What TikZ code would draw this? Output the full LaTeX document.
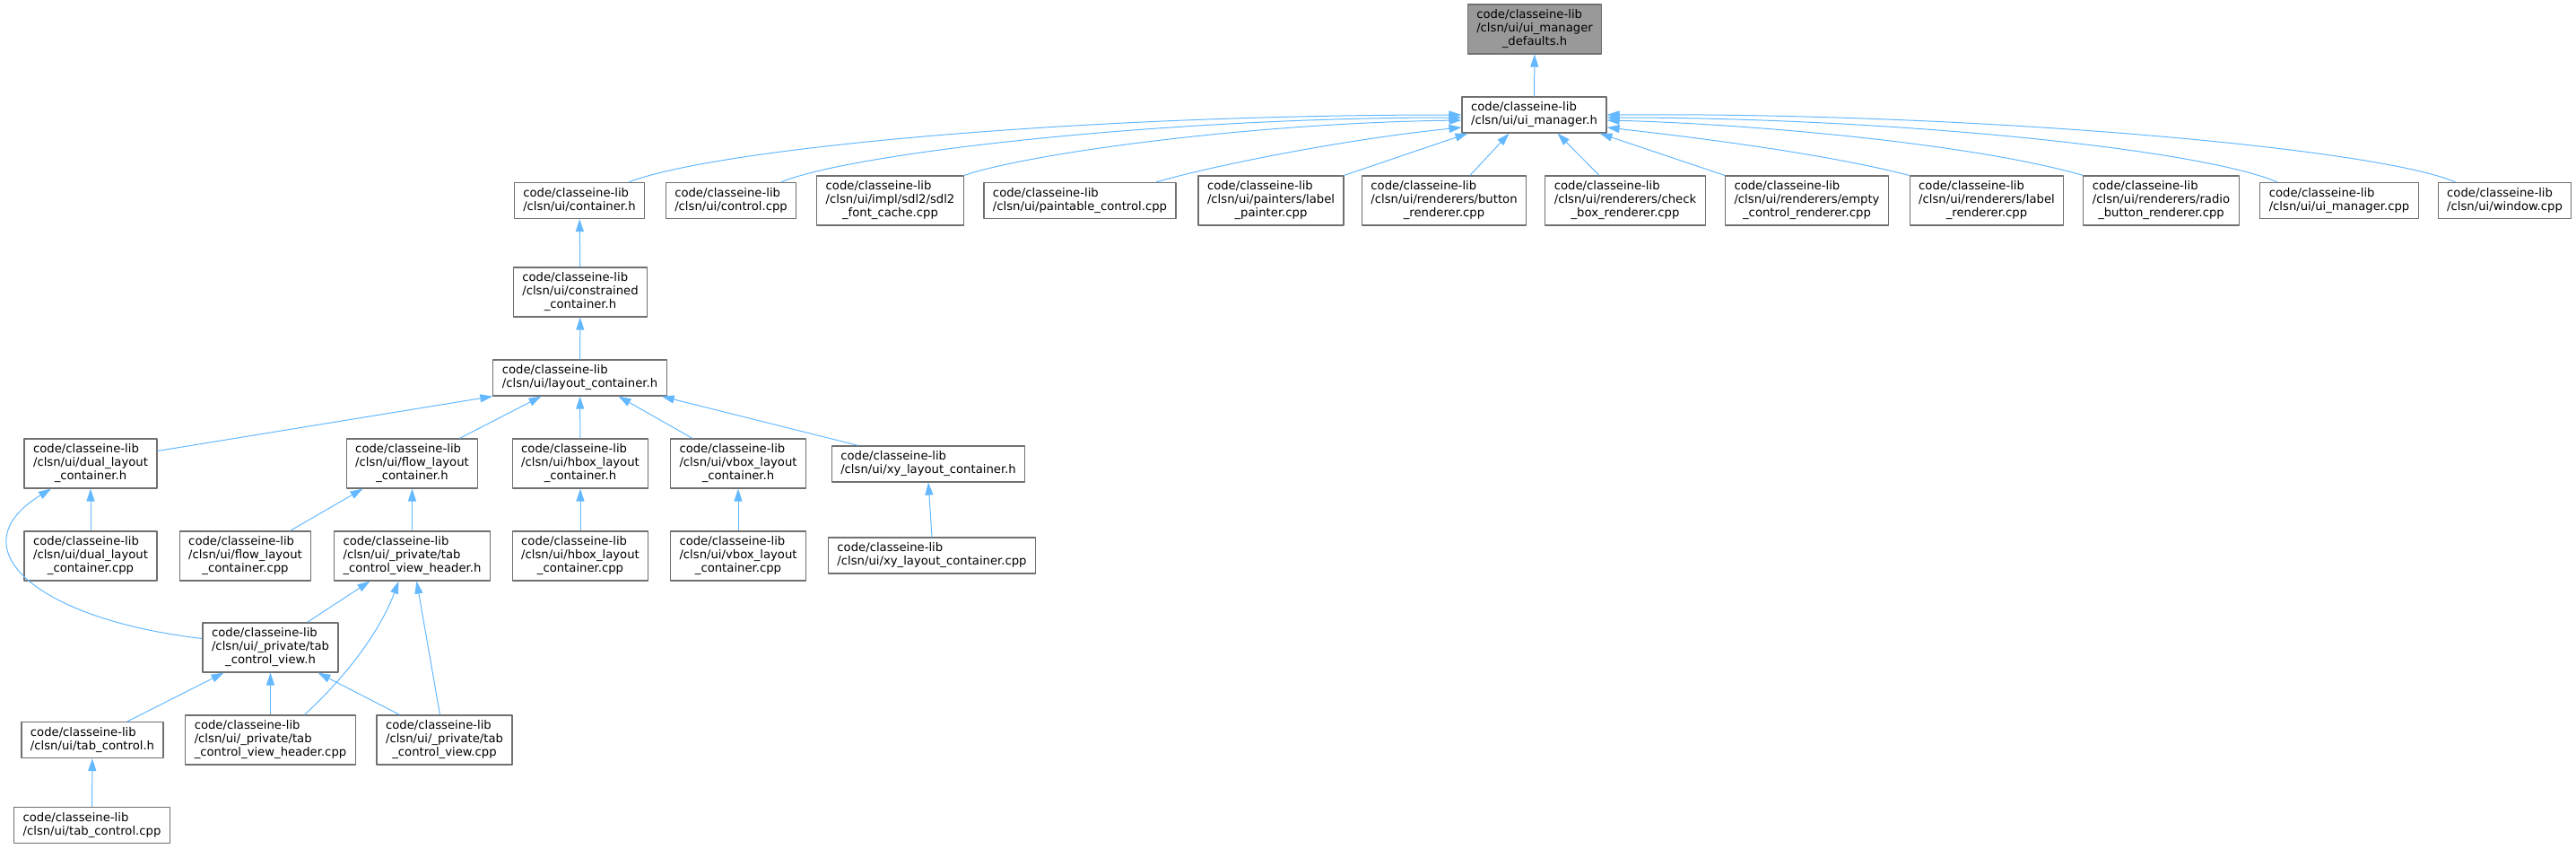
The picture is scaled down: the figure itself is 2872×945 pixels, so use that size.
\documentclass[tikz,border=0pt]{standalone}
\usepackage{fontspec}
\setmainfont{DejaVu Sans}
\usetikzlibrary{arrows.meta}
\definecolor{edgeblue}{HTML}{63B8FF}
\definecolor{boxgray}{HTML}{707070}
\definecolor{rootgray}{HTML}{999999}
\newcommand{\flab}[2]{\begin{tabular}{@{}l@{}}#1\\\multicolumn{1}{@{}c@{}}{#2}\end{tabular}}
\begin{document}
\begin{tikzpicture}[x=1pt, y=-1pt, line join=round,
    file/.style={draw=boxgray, fill=white, line width=1.2pt, inner xsep=10pt, inner ysep=5pt,
      font=\fontsize{13.2}{15}\selectfont},
    root/.style={file, fill=rootgray},
    dep/.style={draw=edgeblue, line width=1pt, -{Triangle[length=14pt, width=9pt]}}]
    \useasboundingbox (0,0) rectangle (2872,945);

    \node[root] (defaults) at (1711,32.5) {\flab{code/classeine-lib\\/clsn/ui/ui\_manager}{\_defaults.h}};
    \node[file] (uimgr) at (1710.5,128) {\flab{code/classeine-lib}{/clsn/ui/ui\_manager.h}};

    % users of ui_manager.h
    \node[file] (container) at (646,223.5) {\flab{code/classeine-lib}{/clsn/ui/container.h}};
    \node[file] (control) at (815,223.5) {\flab{code/classeine-lib}{/clsn/ui/control.cpp}};
    \node[file] (sdlfont) at (992.5,223.5) {\flab{code/classeine-lib\\/clsn/ui/impl/sdl2/sdl2}{\_font\_cache.cpp}};
    \node[file] (paintable) at (1204,223.5) {\flab{code/classeine-lib}{/clsn/ui/paintable\_control.cpp}};
    \node[file] (lpainter) at (1417,223.5) {\flab{code/classeine-lib\\/clsn/ui/painters/label}{\_painter.cpp}};
    \node[file] (button) at (1610,223.5) {\flab{code/classeine-lib\\/clsn/ui/renderers/button}{\_renderer.cpp}};
    \node[file] (checkbox) at (1812,223.5) {\flab{code/classeine-lib\\/clsn/ui/renderers/check}{\_box\_renderer.cpp}};
    \node[file] (empty) at (2014.5,223.5) {\flab{code/classeine-lib\\/clsn/ui/renderers/empty}{\_control\_renderer.cpp}};
    \node[file] (lrenderer) at (2215,223.5) {\flab{code/classeine-lib\\/clsn/ui/renderers/label}{\_renderer.cpp}};
    \node[file] (radio) at (2409.5,223.5) {\flab{code/classeine-lib\\/clsn/ui/renderers/radio}{\_button\_renderer.cpp}};
    \node[file] (uimgrcpp) at (2608,223.5) {\flab{code/classeine-lib}{/clsn/ui/ui\_manager.cpp}};
    \node[file] (window) at (2792.5,223.5) {\flab{code/classeine-lib}{/clsn/ui/window.cpp}};

    % container chain
    \node[file] (constrained) at (647,325.5) {\flab{code/classeine-lib\\/clsn/ui/constrained}{\_container.h}};
    \node[file] (layout) at (646.5,421) {\flab{code/classeine-lib}{/clsn/ui/layout\_container.h}};
    \node[file] (dualh) at (101,516.5) {\flab{code/classeine-lib\\/clsn/ui/dual\_layout}{\_container.h}};
    \node[file] (flowh) at (459.5,516.5) {\flab{code/classeine-lib\\/clsn/ui/flow\_layout}{\_container.h}};
    \node[file] (hboxh) at (647,516.5) {\flab{code/classeine-lib\\/clsn/ui/hbox\_layout}{\_container.h}};
    \node[file] (vboxh) at (823,516.5) {\flab{code/classeine-lib\\/clsn/ui/vbox\_layout}{\_container.h}};
    \node[file] (xyh) at (1035,517) {\flab{code/classeine-lib}{/clsn/ui/xy\_layout\_container.h}};
    \node[file] (dualcpp) at (101,619.5) {\flab{code/classeine-lib\\/clsn/ui/dual\_layout}{\_container.cpp}};
    \node[file] (flowcpp) at (273.5,619.5) {\flab{code/classeine-lib\\/clsn/ui/flow\_layout}{\_container.cpp}};
    \node[file] (headerh) at (459.5,619.5) {\flab{code/classeine-lib\\/clsn/ui/\_private/tab}{\_control\_view\_header.h}};
    \node[file] (hboxcpp) at (647,619.5) {\flab{code/classeine-lib\\/clsn/ui/hbox\_layout}{\_container.cpp}};
    \node[file] (vboxcpp) at (823,619.5) {\flab{code/classeine-lib\\/clsn/ui/vbox\_layout}{\_container.cpp}};
    \node[file] (xycpp) at (1039,619) {\flab{code/classeine-lib}{/clsn/ui/xy\_layout\_container.cpp}};
    \node[file] (viewh) at (301.5,721.5) {\flab{code/classeine-lib\\/clsn/ui/\_private/tab}{\_control\_view.h}};
    \node[file] (tabh) at (103,824.5) {\flab{code/classeine-lib}{/clsn/ui/tab\_control.h}};
    \node[file] (headercpp) at (301.5,824.5) {\flab{code/classeine-lib\\/clsn/ui/\_private/tab}{\_control\_view\_header.cpp}};
    \node[file] (viewcpp) at (495.5,824.5) {\flab{code/classeine-lib\\/clsn/ui/\_private/tab}{\_control\_view.cpp}};
    \node[file] (tabcpp) at (102.5,919.5) {\flab{code/classeine-lib}{/clsn/ui/tab\_control.cpp}};

    \draw[dep] (uimgr) -- (defaults);

    % edges into ui_manager.h, left side
    \draw[dep] ([xshift=55pt]container.north) .. controls (800,165) and (1200,128) .. (uimgr.west);
    \draw[dep] ([xshift=56pt]control.north) .. controls (950,170) and (1300,131) .. ([yshift=-3pt]uimgr.west);
    \draw[dep] (sdlfont.north east) .. controls (1150,170) and (1400,137) .. ([yshift=-6pt]uimgr.west);
    \draw[dep] ([xshift=85pt]paintable.north) .. controls (1350,185) and (1500,155) .. ([yshift=-14pt]uimgr.west);
    \draw[dep] (lpainter.north east) -- ([xshift=7pt]uimgr.south west);
    \draw[dep] ([xshift=29pt]button.north) -- ([xshift=-28pt]uimgr.south);
    \draw[dep] ([xshift=-29pt]checkbox.north) -- ([xshift=26pt]uimgr.south);
    \draw[dep] (empty.north west) -- ([xshift=-8pt]uimgr.south east);
    % right side
    \draw[dep] (lrenderer.north west) .. controls (2030,170) and (1880,152) .. ([yshift=-14pt]uimgr.east);
    \draw[dep] (radio.north west) .. controls (2200,160) and (1950,138) .. ([yshift=-6pt]uimgr.east);
    \draw[dep] ([xshift=-69pt]uimgrcpp.north) .. controls (2450,165) and (2100,131) .. ([yshift=-3pt]uimgr.east);
    \draw[dep] ([xshift=-55pt]window.north) .. controls (2650,165) and (2200,125) .. (uimgr.east);

    \draw[dep] (constrained) -- (container);
    \draw[dep] (layout) -- (constrained);
    \draw[dep] ([yshift=14pt]dualh.east) -- (layout.south west);
    \draw[dep] ([xshift=53pt]flowh.north) -- ([xshift=-43pt]layout.south);
    \draw[dep] (hboxh) -- (layout);
    \draw[dep] ([xshift=-51pt]vboxh.north) -- ([xshift=43pt]layout.south);
    \draw[dep] ([xshift=-78pt]xyh.north) -- ([xshift=-6pt]layout.south east);

    \draw[dep] (dualcpp) -- (dualh);
    \draw[dep] ([xshift=50pt]flowcpp.north) -- ([xshift=-55pt]flowh.south);
    \draw[dep] (headerh) -- (flowh);
    \draw[dep] (hboxcpp) -- (hboxh);
    \draw[dep] (vboxcpp) -- (vboxh);
    \draw[dep] (xycpp.north) -- (xyh.south);

    % tab control view
    \draw[dep] ([yshift=10pt]viewh.west) .. controls (40,690) and (-50,610) .. ([xshift=-44pt]dualh.south);
    \draw[dep] ([xshift=41pt]viewh.north) -- ([xshift=-47pt]headerh.south);
    \draw[dep] ([xshift=38pt]headercpp.north) .. controls (390,750) and (425,700) .. ([xshift=-15pt]headerh.south);
    \draw[dep] ([xshift=-5pt]viewcpp.north) -- ([xshift=5pt]headerh.south);
    \draw[dep] ([xshift=39pt]tabh.north) -- ([xshift=-52pt]viewh.south);
    \draw[dep] (headercpp) -- (viewh);
    \draw[dep] ([xshift=-50pt]viewcpp.north) -- ([xshift=53pt]viewh.south);
    \draw[dep] (tabcpp) -- (tabh);
\end{tikzpicture}
\end{document}
